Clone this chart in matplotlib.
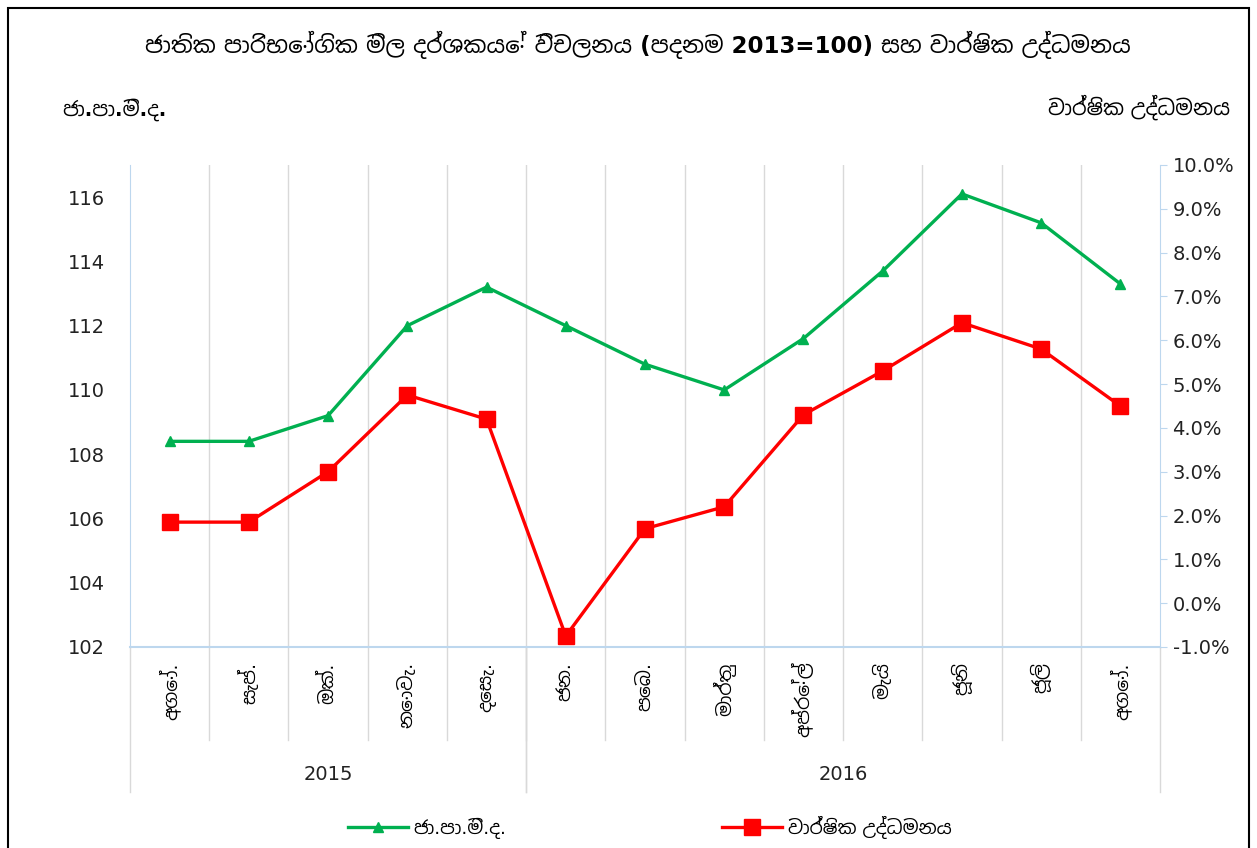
import matplotlib
matplotlib.use("Agg")
import matplotlib.pyplot as plt
from matplotlib import font_manager
from matplotlib.lines import Line2D
from matplotlib.patches import Rectangle
from matplotlib.ticker import FuncFormatter, MultipleLocator

# use a Sinhala-capable family if one is installed, DejaVu for the rest
sinhala = sorted({f.name for f in font_manager.fontManager.ttflist
                  if "sinhala" in f.name.lower() or "iskoola" in f.name.lower()})
plt.rcParams['font.family'] = ['DejaVu Sans'] + sinhala + ['Noto Sans']

title = "ජාතික පාරිභෝගික මිල දර්ශකයේ විචලනය (පදනම 2013=100) සහ වාර්ෂික උද්ධමනය"
left_label = "ජා.පා.මි.ද."
right_label = "වාර්ෂික උද්ධමනය"

months = ["අගෝ.", "සැප්.", "ඔක්.", "නොවැ.", "දෙසැ.", "ජන.", "පෙබ.",
          "මාර්තු", "අප්‍රේල්", "මැයි", "ජූනි", "ජූලි", "අගෝ."]
years = ["2015", "2016"]
year_counts = [5, 8]

ccpi = [108.4, 108.4, 109.2, 112.0, 113.2, 112.0, 110.8,
        110.0, 111.6, 113.7, 116.1, 115.2, 113.3]
inflation = [1.85, 1.85, 3.0, 4.75, 4.2, -0.75, 1.7,
             2.2, 4.3, 5.3, 6.4, 5.8, 4.5]

GREEN = "#00b050"
RED = "#ff0000"
GRID = "#d9d9d9"
SPINE = "#bdd7ee"

W, H = 1257, 848
fig = plt.figure(figsize=(W / 100, H / 100), dpi=100)
ax = fig.add_axes([130 / W, 1 - 647 / H, 1030 / W, (647 - 165) / H])
ax2 = ax.twinx()

x = list(range(len(months)))
ax.plot(x, ccpi, color=GREEN, lw=2.4, marker="^", ms=7, zorder=3)
ax2.plot(x, inflation, color=RED, lw=2.4, marker="s", ms=11, zorder=3)

ax.set_xlim(-0.5, len(months) - 0.5)
ax.set_ylim(102, 117)
ax.yaxis.set_major_locator(MultipleLocator(2))
ax2.set_ylim(-1, 10)
ax2.yaxis.set_major_locator(MultipleLocator(1))
ax2.yaxis.set_major_formatter(FuncFormatter(lambda v, p: f"{v:.1f}%"))

# vertical category separators
for b in range(1, len(months)):
    ax.axvline(b - 0.5, color=GRID, lw=1, zorder=0)

for a in (ax, ax2):
    for s in a.spines.values():
        s.set_visible(False)
ax.spines["left"].set_visible(True)
ax.spines["left"].set_color(SPINE)
ax2.spines["right"].set_visible(True)
ax2.spines["right"].set_color(SPINE)
ax.spines["bottom"].set_visible(True)
ax.spines["bottom"].set_color(SPINE)
ax.spines["bottom"].set_linewidth(1.5)

ax.tick_params(axis="y", length=0, labelsize=14, colors="#222222", pad=18)
ax2.tick_params(axis="y", length=5, color=SPINE, labelsize=14,
                labelcolor="#222222", pad=4)

# month labels and year grouping below the axis
ax.set_xticks(x)
ax.set_xticklabels(months, rotation=90, fontsize=13.5)
ax.tick_params(axis="x", length=0, pad=11)

trans = ax.get_xaxis_transform()
y_cat = -(740 - 647) / (647 - 165)
y_year = -(792 - 647) / (647 - 165)
for b in range(1, len(months)):
    ax.plot([b - 0.5, b - 0.5], [0, y_cat], color=GRID, lw=1,
            transform=trans, clip_on=False)
start = -0.5
for yr, n in zip(years, year_counts):
    end = start + n
    for xx in (start, end):
        ax.plot([xx, xx], [0, y_year], color=GRID, lw=1,
                transform=trans, clip_on=False)
    ax.text((start + end) / 2, -(775 - 647) / (647 - 165), yr,
            transform=trans, ha="center", va="center", fontsize=14,
            color="#222222")
    start = end

fig.text(638 / W, 1 - 45 / H, title, ha="center", va="center",
         fontsize=16.5, fontweight="bold")
fig.text(62 / W, 1 - 110 / H, left_label, ha="left", va="center",
         fontsize=14.5, fontweight="bold")
fig.text(1230 / W, 1 - 107 / H, right_label, ha="right", va="center",
         fontsize=15)

handles = [Line2D([], [], color=GREEN, lw=2.4, marker="^", ms=7),
           Line2D([], [], color=RED, lw=2.4, marker="s", ms=11)]
fig.legend(handles, [left_label, right_label], loc="center",
           bbox_to_anchor=(650 / W, 1 - 827 / H), ncol=2, frameon=False,
           fontsize=13.5, columnspacing=11.5, handlelength=3.2,
           handletextpad=0.3)

fig.patches.append(Rectangle((8 / W, -0.01), 1241 / W, 1 - 8 / H + 0.01,
                             transform=fig.transFigure, fill=False,
                             edgecolor="black", lw=1.5))

fig.savefig("out.png", dpi=100)
